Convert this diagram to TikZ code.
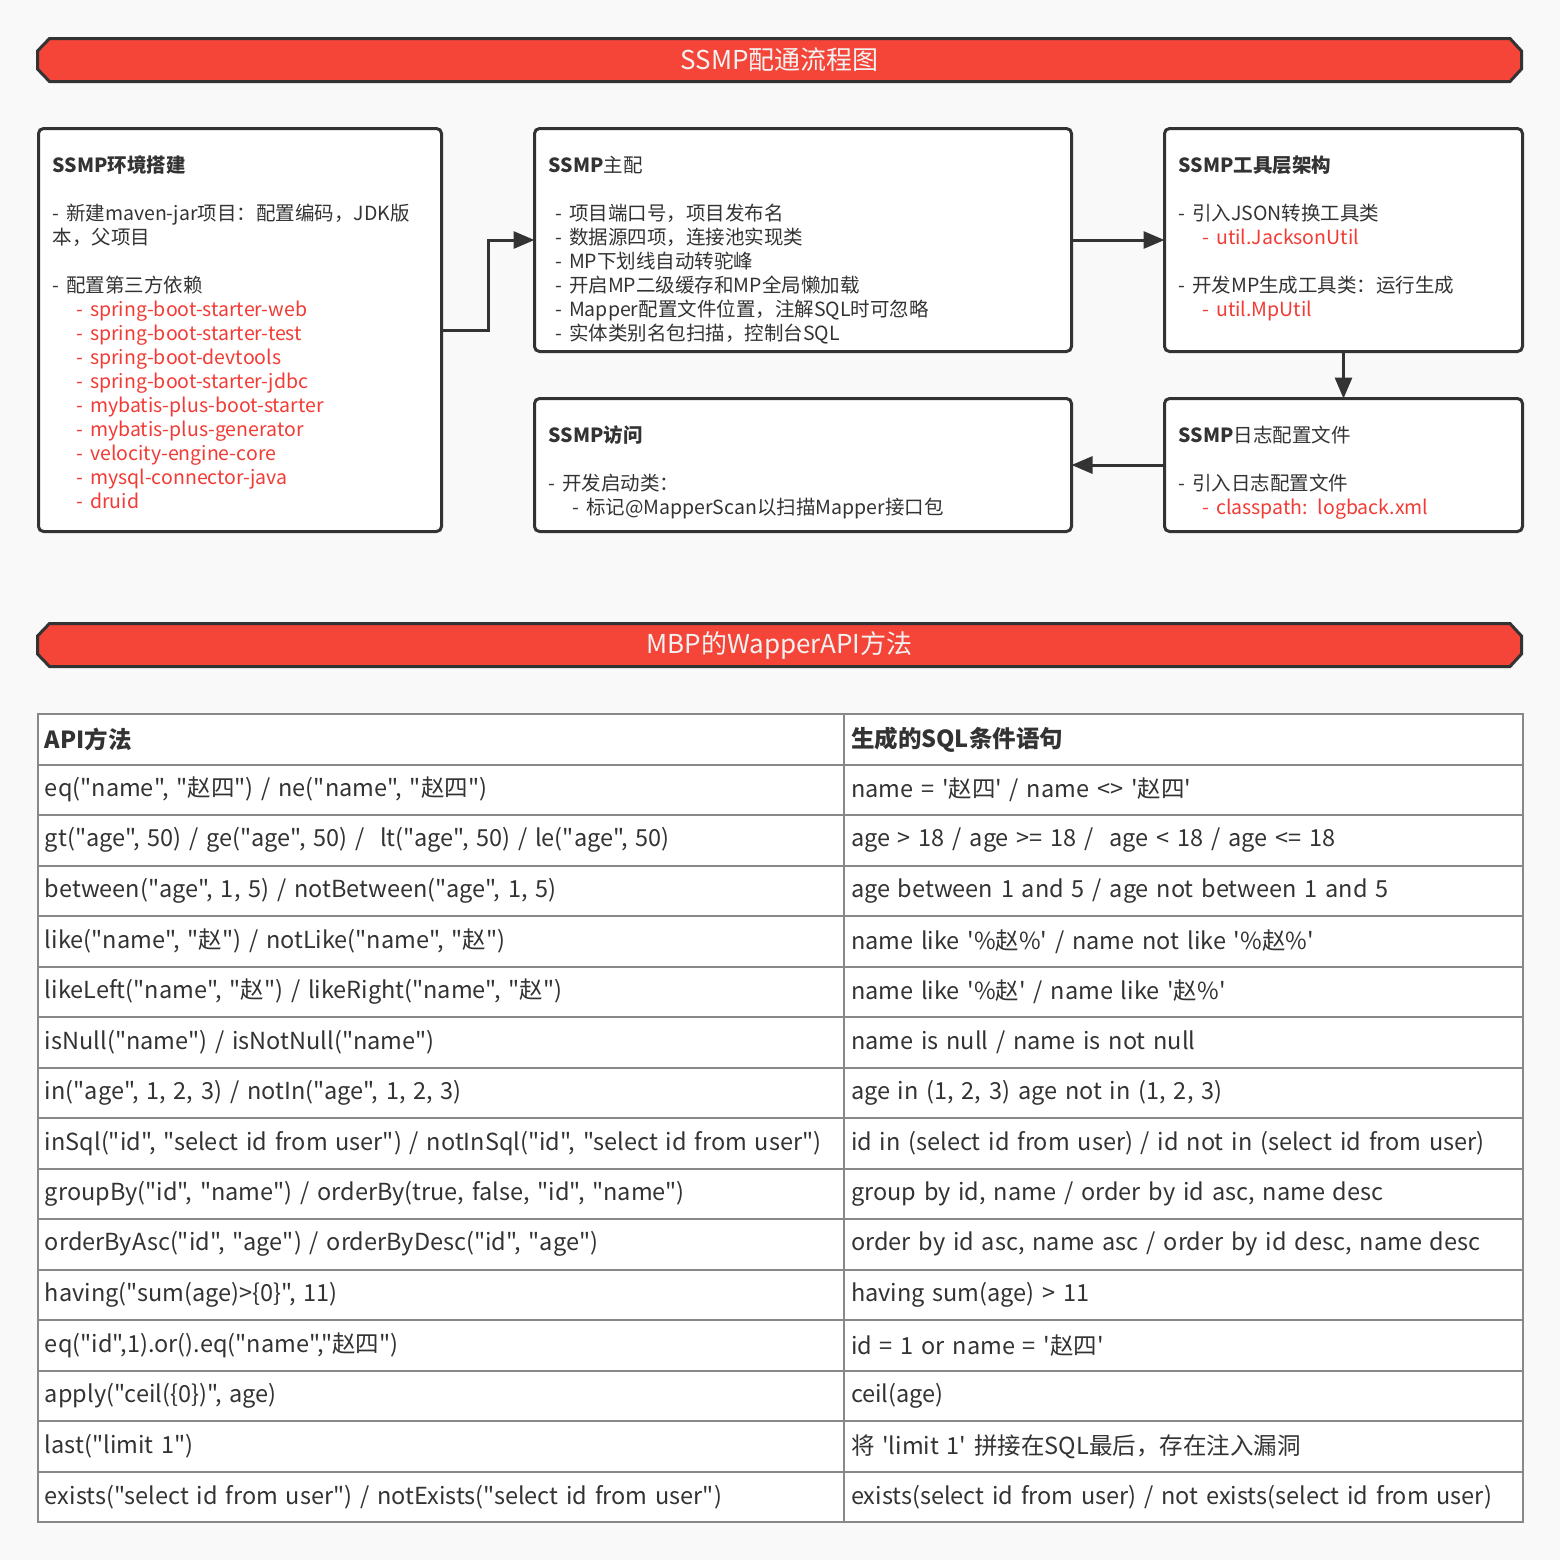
\documentclass[tikz,border=0pt]{standalone}
\usepackage{fontspec}
\setmainfont{Noto Sans CJK SC}[Ligatures=TeXOff]
\usepackage{xcolor}
\usetikzlibrary{positioning, arrows.meta}

\definecolor{bgc}{HTML}{F9F9F9}
\definecolor{dline}{HTML}{333333}
\definecolor{bred}{HTML}{F44538}
\definecolor{btxt}{HTML}{F2F2F2}
\definecolor{sred}{HTML}{F23B35}
\definecolor{tgray}{HTML}{333333}
\definecolor{tline}{HTML}{888888}

\newcommand\subln[1]{\hspace*{12pt}#1}
\newcommand\redln[1]{\hspace*{12pt}\textcolor{sred}{- #1}}

\begin{document}
\begin{tikzpicture}[x=0.5pt, y=-0.5pt,
        bannerbg/.style = {draw=dline, fill=bred, line width=1.5pt, line join=miter},
        banner/.style = {inner sep=0pt, text=btxt, font=\fontsize{13pt}{15pt}\selectfont},
        box/.style = {draw=dline, fill=white, line width=1.5pt, rounded corners=2.5pt, outer sep=0pt},
        txt/.style = {anchor=north west, inner sep=0pt, align=left, text=tgray, font=\fontsize{9.75pt}{12pt}\selectfont},
        cell/.style = {draw=tline, fill=white, line width=1pt, outer sep=0pt, inner xsep=3.5pt, inner ysep=0pt, minimum height=25.25pt, align=left, text=tgray, font=\fontsize{11.75pt}{14pt}\selectfont},
        cola/.style = {cell, text width=396pt},
        colb/.style = {cell, text width=332.5pt},
        arr/.style = {draw=dline, line width=1.5pt, -{Triangle[length=10.5pt, width=8.5pt]}}]

        \fill[bgc] (0,0) rectangle (1560,1560);

        \draw[bannerbg] (49.5,38.5) -- (1510,38.5) -- (1521.5,51) -- (1521.5,69) -- (1510,81.5) -- (49.5,81.5) -- (37.5,69) -- (37.5,51) -- cycle;
        \node[banner] (T1) at (779.5,60) {SSMP配通流程图};

        \node[box, minimum width=201.5pt, minimum height=201.5pt] (Env) at (240,330) {};
        \node[box, minimum width=268.5pt, minimum height=111.5pt] (Cfg) [right=46.5pt of Env.north east, anchor=north west] {};
        \node[box, minimum width=179pt, minimum height=111.5pt] (Tool) [right=46.5pt of Cfg] {};
        \node[box, minimum width=268.5pt, minimum height=66.5pt] (Visit) [below=23.5pt of Cfg] {};
        \node[box, minimum width=179pt, minimum height=66.5pt] (Log) [below=23.5pt of Tool] {};

        \node[txt, text width=195pt] (EnvT) at ([shift={(7pt,-13.5pt)}]Env.north west) {\textbf{SSMP环境搭建}\\[12pt]
            - 新建maven-jar项目：配置编码，JDK版\\
            本，父项目\\[12pt]
            - 配置第三方依赖\\
            \redln{spring-boot-starter-web}\\
            \redln{spring-boot-starter-test}\\
            \redln{spring-boot-devtools}\\
            \redln{spring-boot-starter-jdbc}\\
            \redln{mybatis-plus-boot-starter}\\
            \redln{mybatis-plus-generator}\\
            \redln{velocity-engine-core}\\
            \redln{mysql-connector-java}\\
            \redln{druid}};
        \node[txt, text width=260pt] (CfgT) at ([shift={(7pt,-13.5pt)}]Cfg.north west) {\textbf{SSMP}主配\\[12pt]
            \hspace*{3.5pt}- 项目端口号，项目发布名\\
            \hspace*{3.5pt}- 数据源四项，连接池实现类\\
            \hspace*{3.5pt}- MP下划线自动转驼峰\\
            \hspace*{3.5pt}- 开启MP二级缓存和MP全局懒加载\\
            \hspace*{3.5pt}- Mapper配置文件位置，注解SQL时可忽略\\
            \hspace*{3.5pt}- 实体类别名包扫描，控制台SQL};
        \node[txt, text width=172pt] (ToolT) at ([shift={(7pt,-13.5pt)}]Tool.north west) {\textbf{SSMP工具层架构}\\[12pt]
            - 引入JSON转换工具类\\
            \redln{util.JacksonUtil}\\[12pt]
            - 开发MP生成工具类：运行生成\\
            \redln{util.MpUtil}};
        \node[txt, text width=260pt] (VisitT) at ([shift={(7pt,-13.5pt)}]Visit.north west) {\textbf{SSMP访问}\\[12pt]
            - 开发启动类：\\
            \subln{- 标记@MapperScan以扫描Mapper接口包}};
        \node[txt, text width=172pt] (LogT) at ([shift={(7pt,-13.5pt)}]Log.north west) {\textbf{SSMP}日志配置文件\\[12pt]
            - 引入日志配置文件\\
            \redln{classpath: logback.xml}};

        \draw[arr] (Env.east) -- ++(23.25pt,0) |- (Cfg.west);
        \draw[arr] (Cfg) -- (Tool);
        \draw[arr] (Tool) -- (Log);
        \draw[arr] (Log) -- (Visit);

        \draw[bannerbg] (49.5,623.5) -- (1510,623.5) -- (1521.5,636) -- (1521.5,654) -- (1510,666.5) -- (49.5,666.5) -- (37.5,654) -- (37.5,636) -- cycle;
        \node[banner] (T2) at (779.5,645) {MBP的WapperAPI方法};

        \node[cola, anchor=north west] (a0) at (38,714) {\textbf{API方法}};
        \node[colb] (b0) [right=0pt of a0] {\textbf{生成的SQL条件语句}};
        \node[cola] (a1) [below=0pt of a0] {eq("name", "赵四") / ne("name", "赵四")};
        \node[colb] (b1) [right=0pt of a1] {name = '赵四' / name <> '赵四'};
        \node[cola] (a2) [below=0pt of a1] {gt("age", 50) / ge("age", 50) /\ \ lt("age", 50) / le("age", 50)};
        \node[colb] (b2) [right=0pt of a2] {age > 18 / age >= 18 /\ \ age < 18 / age <= 18};
        \node[cola] (a3) [below=0pt of a2] {between("age", 1, 5) / notBetween("age", 1, 5)};
        \node[colb] (b3) [right=0pt of a3] {age between 1 and 5 / age not between 1 and 5};
        \node[cola] (a4) [below=0pt of a3] {like("name", "赵") / notLike("name", "赵")};
        \node[colb] (b4) [right=0pt of a4] {name like '\%赵\%' / name not like '\%赵\%'};
        \node[cola] (a5) [below=0pt of a4] {likeLeft("name", "赵") / likeRight("name", "赵")};
        \node[colb] (b5) [right=0pt of a5] {name like '\%赵' / name like '赵\%'};
        \node[cola] (a6) [below=0pt of a5] {isNull("name") / isNotNull("name")};
        \node[colb] (b6) [right=0pt of a6] {name is null / name is not null};
        \node[cola] (a7) [below=0pt of a6] {in("age", 1, 2, 3) / notIn("age", 1, 2, 3)};
        \node[colb] (b7) [right=0pt of a7] {age in (1, 2, 3) age not in (1, 2, 3)};
        \node[cola] (a8) [below=0pt of a7] {inSql("id", "select id from user") / notInSql("id", "select id from user")};
        \node[colb] (b8) [right=0pt of a8] {id in (select id from user) / id not in (select id from user)};
        \node[cola] (a9) [below=0pt of a8] {groupBy("id", "name") / orderBy(true, false, "id", "name")};
        \node[colb] (b9) [right=0pt of a9] {group by id, name / order by id asc, name desc};
        \node[cola] (a10) [below=0pt of a9] {orderByAsc("id", "age") / orderByDesc("id", "age")};
        \node[colb] (b10) [right=0pt of a10] {order by id asc, name asc / order by id desc, name desc};
        \node[cola] (a11) [below=0pt of a10] {having("sum(age)>\{0\}", 11)};
        \node[colb] (b11) [right=0pt of a11] {having sum(age) > 11};
        \node[cola] (a12) [below=0pt of a11] {eq("id",1).or().eq("name","赵四")};
        \node[colb] (b12) [right=0pt of a12] {id = 1 or name = '赵四'};
        \node[cola] (a13) [below=0pt of a12] {apply("ceil(\{0\})", age)};
        \node[colb] (b13) [right=0pt of a13] {ceil(age)};
        \node[cola] (a14) [below=0pt of a13] {last("limit 1")};
        \node[colb] (b14) [right=0pt of a14] {将 'limit 1' 拼接在SQL最后，存在注入漏洞};
        \node[cola] (a15) [below=0pt of a14] {exists("select id from user") / notExists("select id from user")};
        \node[colb] (b15) [right=0pt of a15] {exists(select id from user) / not exists(select id from user)};

    \end{tikzpicture}
\end{document}
